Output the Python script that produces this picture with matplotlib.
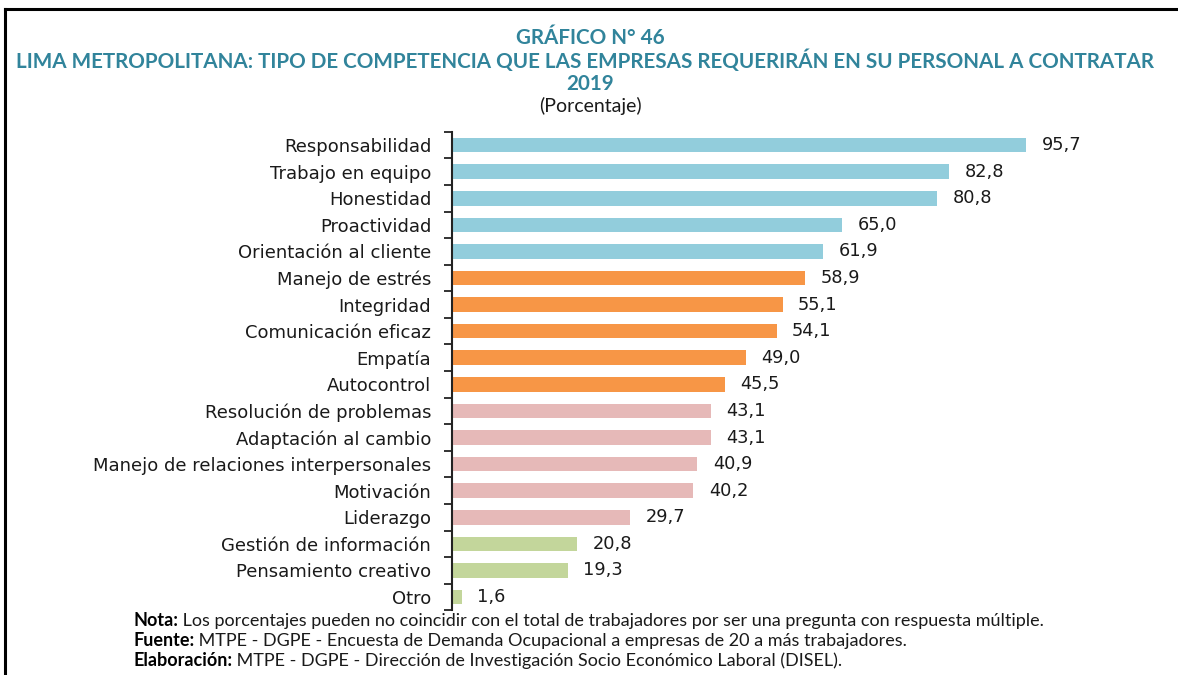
import matplotlib
matplotlib.use("Agg")
import matplotlib.pyplot as plt
from matplotlib.lines import Line2D
from matplotlib.ticker import FixedLocator

categories = ["Responsabilidad", "Trabajo en equipo", "Honestidad", "Proactividad",
              "Orientación al cliente", "Manejo de estrés", "Integridad",
              "Comunicación eficaz", "Empatía", "Autocontrol",
              "Resolución de problemas", "Adaptación al cambio",
              "Manejo de relaciones interpersonales", "Motivación", "Liderazgo",
              "Gestión de información", "Pensamiento creativo", "Otro"]
values = [95.7, 82.8, 80.8, 65.0, 61.9, 58.9, 55.1, 54.1, 49.0, 45.5,
          43.1, 43.1, 40.9, 40.2, 29.7, 20.8, 19.3, 1.6]
groups = [0] * 5 + [1] * 5 + [2] * 5 + [3] * 3

BLUE = "#92CDDC"
ORANGE = "#F79646"
PINK = "#E6B9B8"
GREEN = "#C3D69B"
TEAL = "#31849B"
INK = "#1a1a1a"
group_colors = [BLUE, ORANGE, PINK, GREEN]

fig = plt.figure(figsize=(11.78, 6.75), dpi=100)
ax = fig.add_axes([0.3837, 0.0958, 0.5093, 0.709])

ys = list(range(len(categories)))
ax.barh(ys, values, height=0.55, color=[group_colors[g] for g in groups])
for y, v in zip(ys, values):
    ax.text(v + 2.6, y, f"{v:.1f}".replace(".", ","), va="center", ha="left",
            fontsize=12.8, color=INK)

ax.set_ylim(len(categories) - 0.5, -0.5)
ax.set_xlim(0, 100)
ax.set_yticks(ys)
ax.set_yticklabels(categories, fontsize=13, color=INK)
ax.tick_params(axis="y", which="major", length=0, pad=15)
ax.yaxis.set_minor_locator(FixedLocator([i - 0.5 for i in range(len(categories) + 1)]))
ax.tick_params(axis="y", which="minor", length=6, width=1.3, color="#222222")
ax.set_xticks([])
for s in ["top", "right", "bottom"]:
    ax.spines[s].set_visible(False)
ax.spines["left"].set_linewidth(1.5)
ax.spines["left"].set_color("#222222")

tfont = "Lato"
fig.text(0.501, 0.944, "GRÁFICO N° 46", ha="center", va="center",
         fontsize=14.9, fontweight="bold", color=TEAL, family=tfont)
fig.text(0.497, 0.910, "LIMA METROPOLITANA: TIPO DE COMPETENCIA QUE LAS EMPRESAS REQUERIRÁN EN SU PERSONAL A CONTRATAR",
         ha="center", va="center", fontsize=14.9, fontweight="bold", color=TEAL, family=tfont)
fig.text(0.501, 0.876, "2019", ha="center", va="center",
         fontsize=14.9, fontweight="bold", color=TEAL, family=tfont)
fig.text(0.501, 0.843, "(Porcentaje)", ha="center", va="center",
         fontsize=14, color=INK, family=tfont)

notes = [("Nota:", " Los porcentajes pueden no coincidir con el total de trabajadores por ser una pregunta con respuesta múltiple."),
         ("Fuente:", " MTPE - DGPE - Encuesta de Demanda Ocupacional a empresas de 20 a más trabajadores."),
         ("Elaboración:", " MTPE - DGPE - Dirección de Investigación Socio Económico Laboral (DISEL).")]
renderer = fig.canvas.get_renderer()
for i, (head, body) in enumerate(notes):
    y = 1 - (621 + 20 * i) / 675
    t = fig.text(0.113, y, head, ha="left", va="center", fontsize=13,
                 fontweight="bold", color="black", family=tfont)
    bb = t.get_window_extent(renderer=renderer)
    fig.text(bb.x1 / fig.bbox.width, y, body, ha="left", va="center",
             fontsize=13, color=INK, family=tfont)

# frame lines of the original box
fig.add_artist(Line2D([5 / 1178, 1.0], [1 - 9 / 675] * 2, color="black", lw=2.2))
fig.add_artist(Line2D([5 / 1178] * 2, [0, 1 - 9 / 675], color="black", lw=2.2))

fig.savefig("out.png", dpi=100, facecolor="white")
